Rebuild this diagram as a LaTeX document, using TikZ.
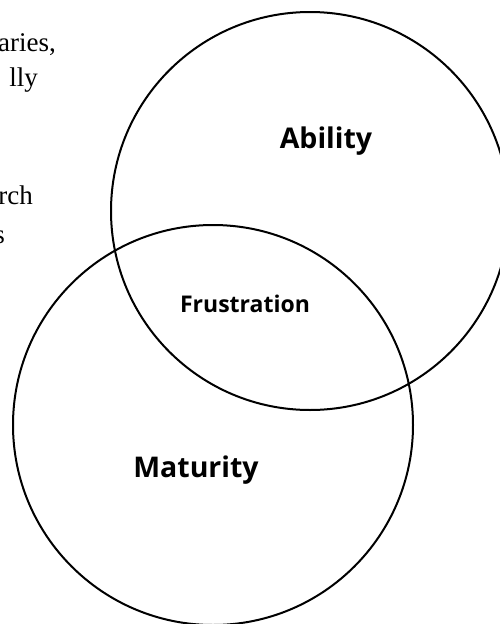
\documentclass[tikz,border=0pt]{standalone}
\usepackage{fontspec}
\setmainfont{Liberation Serif}
\newfontfamily\labelfont{Open Sans}
\tikzset{
  ring/.style={circle, draw=black, line width=2pt, inner sep=0pt},
  bodytext/.style={inner sep=0pt, anchor=base east, font=\fontsize{27}{32}\selectfont},
  setlabel/.style={inner sep=0pt, anchor=base, font=\labelfont\bfseries\fontsize{28.5}{32}\selectfont},
  smalllabel/.style={inner sep=0pt, anchor=base, font=\labelfont\bfseries\fontsize{23}{26}\selectfont}
}
\begin{document}
\begin{tikzpicture}[x=1pt,y=-1pt]
\useasboundingbox (0,0) rectangle (500,624);
\clip (0,0) rectangle (500,624);
\node[bodytext] (t1) at (56,51) {aries,};
\node[bodytext] (t2) at (38,86) {lly};
\node[bodytext] (t3) at (33,204) {rch};
\node[bodytext] (t4) at (5,243) {s};
\node[ring, minimum size=398pt] (ability) at (310,211) {};
\node[ring, minimum size=400pt] (maturity) at (213,425) {};
\node[setlabel] (lab1) at (326,148) {Ability};
\node[smalllabel] (lab2) at (245,312) {Frustration};
\node[setlabel] (lab3) at (196,477) {Maturity};
\end{tikzpicture}
\end{document}
